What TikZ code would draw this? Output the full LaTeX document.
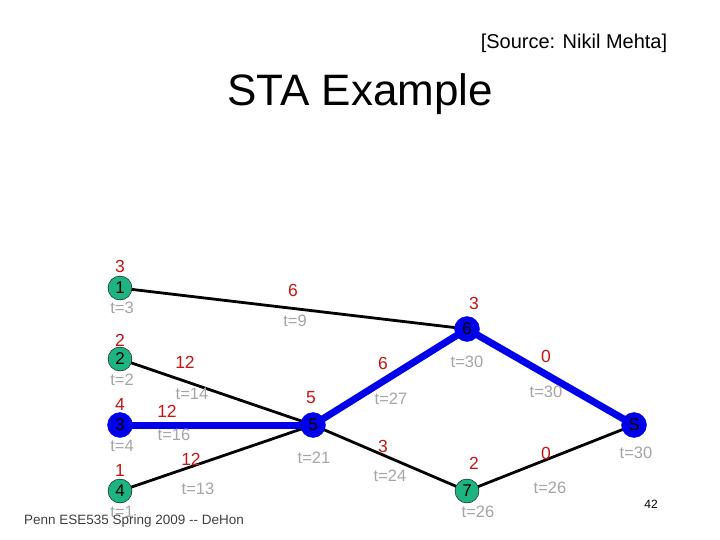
\documentclass[tikz,border=0pt]{standalone}
\usepackage{fontspec}
\setmainfont{Liberation Sans}
\definecolor{rd}{RGB}{200,20,20}
\definecolor{gy}{RGB}{165,165,165}
\definecolor{gn}{RGB}{30,180,130}
\definecolor{bl}{RGB}{0,0,235}
\begin{document}
\begin{tikzpicture}[x=1pt,y=-1pt,
  gnode/.style={circle,draw=black,fill=gn,minimum size=24pt,inner sep=0pt,font=\fontsize{17}{17}\selectfont},
  bnode/.style={circle,draw=bl,fill=bl,minimum size=25pt,inner sep=0pt,font=\fontsize{17}{17}\selectfont},
  wt/.style={text=rd,font=\fontsize{17.5}{17.5}\selectfont},
  tt/.style={text=gy,font=\fontsize{16.5}{16.5}\selectfont},
  ed/.style={line width=2.8pt},
  crit/.style={line width=7pt,bl}]
\useasboundingbox (0,0) rectangle (720,540);
\node[font=\fontsize{20}{20}\selectfont] (src) at (574,43) {[Source: Nikil Mehta]};
\node[font=\fontsize{44}{44}\selectfont] (title) at (360,94) {STA Example};
\coordinate (c1) at (120,288); \coordinate (c2) at (120,359); \coordinate (c3) at (120,425);
\coordinate (c4) at (120,491); \coordinate (c5) at (313,425); \coordinate (c6) at (467,329);
\coordinate (c7) at (467,491); \coordinate (cS) at (634,425);
\draw[ed] (c1) -- (c6);
\draw[ed] (c2) -- (c5);
\draw[ed] (c4) -- (c5);
\draw[ed] (c5) -- (c7);
\draw[ed] (c7) -- (cS);
\draw[crit] (c3) -- (c5);
\draw[crit] (c5) -- (c6);
\draw[crit] (c6) -- (cS);
\node[gnode] (n1) at (c1) {1};
\node[gnode] (n2) at (c2) {2};
\node[bnode] (n3) at (c3) {3};
\node[gnode] (n4) at (c4) {4};
\node[bnode] (n5) at (c5) {5};
\node[bnode] (n6) at (c6) {6};
\node[gnode] (n7) at (c7) {7};
\node[bnode] (nS) at (cS) {S};
\node[wt] (w1) at (120,266) {3}; \node[tt] (t1) at (122,308) {t=3};
\node[wt] (w2) at (120,340) {2}; \node[tt] (t2) at (122,380) {t=2};
\node[wt] (w3) at (120,404) {4}; \node[tt] (t3) at (122,446) {t=4};
\node[wt] (w4) at (120,470) {1}; \node[tt] (t4) at (122,512) {t=1};
\node[wt] (w5) at (311,398) {5}; \node[tt] (t5) at (314,458) {t=21};
\node[wt] (w6) at (474,303) {3}; \node[tt] (t6) at (467,362) {t=30};
\node[wt] (w7) at (474,463) {2}; \node[tt] (t7) at (478,512) {t=26};
\node[tt] (tS) at (636,453) {t=30};
\node[wt] (e16) at (293,290) {6}; \node[tt] (e16t) at (295,321) {t=9};
\node[wt] (e25) at (185,362) {12}; \node[tt] (e25t) at (192,394) {t=14};
\node[wt] (e35) at (167,411) {12}; \node[tt] (e35t) at (174,435) {t=16};
\node[wt] (e45) at (191,459) {12}; \node[tt] (e45t) at (198,489) {t=13};
\node[wt] (e56) at (383,363) {6}; \node[tt] (e56t) at (391,399) {t=27};
\node[wt] (e57) at (383,446) {3}; \node[tt] (e57t) at (390,476) {t=24};
\node[wt] (e6S) at (546,356) {0}; \node[tt] (e6St) at (546,392) {t=30};
\node[wt] (e7S) at (546,453) {0}; \node[tt] (e7St) at (550,488) {t=26};
\node[font=\fontsize{12}{12}\selectfont] (pg) at (651,504) {42};
\node[text=black!75,font=\fontsize{13.5}{13.5}\selectfont] (ft) at (134,521) {Penn ESE535 Spring 2009 -{}- DeHon};
\end{tikzpicture}
\end{document}
